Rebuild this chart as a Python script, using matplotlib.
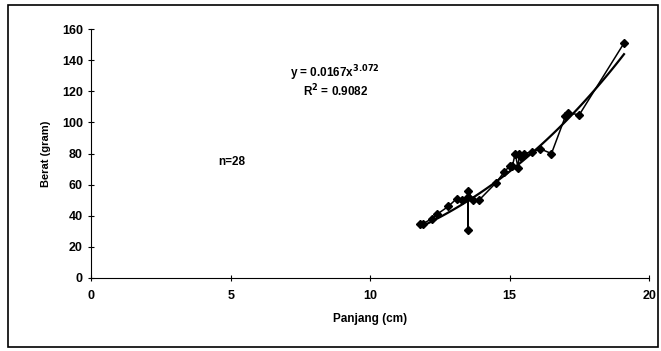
import numpy as np
import matplotlib.pyplot as plt
from matplotlib.patches import Rectangle

# Panjang (cm) vs Berat (gram), n = 28
panjang = [11.8, 11.9, 12.2, 12.4, 12.8, 13.1, 13.3, 13.5, 13.5, 13.5,
           13.7, 13.9, 14.5, 14.8, 15.0, 15.1, 15.2, 15.3, 15.35, 15.4,
           15.5, 15.8, 16.1, 16.5, 17.0, 17.1, 17.5, 19.1]
berat = [35, 35, 38, 41, 46, 51, 50, 52, 31, 56,
         50, 50, 61, 68, 72, 72, 80, 71, 80, 78,
         80, 81, 83, 80, 104, 106, 105, 151]

# power trendline y = a*x^b
a = 0.0167
b = 3.072
x_fit = np.linspace(min(panjang), max(panjang), 100)
y_fit = a * x_fit**b

plt.rcParams['font.family'] = ['Liberation Sans', 'DejaVu Sans']
plt.rcParams['font.weight'] = 'bold'

fig = plt.figure(figsize=(6.61, 3.51), dpi=100)
ax = fig.add_axes([0.138, 0.208, 0.844, 0.709])

ax.plot(panjang, berat, 'k-', marker='D', markersize=4.5, linewidth=1.1)
ax.plot(x_fit, y_fit, 'k-', linewidth=1.6)

ax.set_xlim(0, 20)
ax.set_ylim(0, 160)
ax.set_xticks([0, 5, 10, 15, 20])
ax.set_yticks(range(0, 161, 20))
ax.spines['top'].set_visible(False)
ax.spines['right'].set_visible(False)
ax.tick_params(direction='inout', length=5, labelsize=9, width=0.8)
for lbl in ax.get_xticklabels() + ax.get_yticklabels():
    lbl.set_fontweight('bold')
ax.tick_params(axis='x', pad=6)

ax.set_xlabel('Panjang (cm)', fontsize=8.5, fontweight='bold', labelpad=8)
ax.set_ylabel('Berat (gram)', fontsize=8, fontweight='bold', labelpad=8)

ax.text(8.75, 131.5, 'y = 0.0167x$^{3.072}$', ha='center', va='center',
        fontsize=8.5, fontweight='bold')
ax.text(8.75, 120, 'R$^{2}$ = 0.9082', ha='center', va='center',
        fontsize=8.5, fontweight='bold')
ax.text(5.05, 74.5, 'n=28', ha='center', va='center', fontsize=8.5)

fig.patches.append(Rectangle((0.012, 0.01), 0.983, 0.975, transform=fig.transFigure,
                             fill=False, edgecolor='black', linewidth=1.2))

fig.savefig('out.png', dpi=100)
